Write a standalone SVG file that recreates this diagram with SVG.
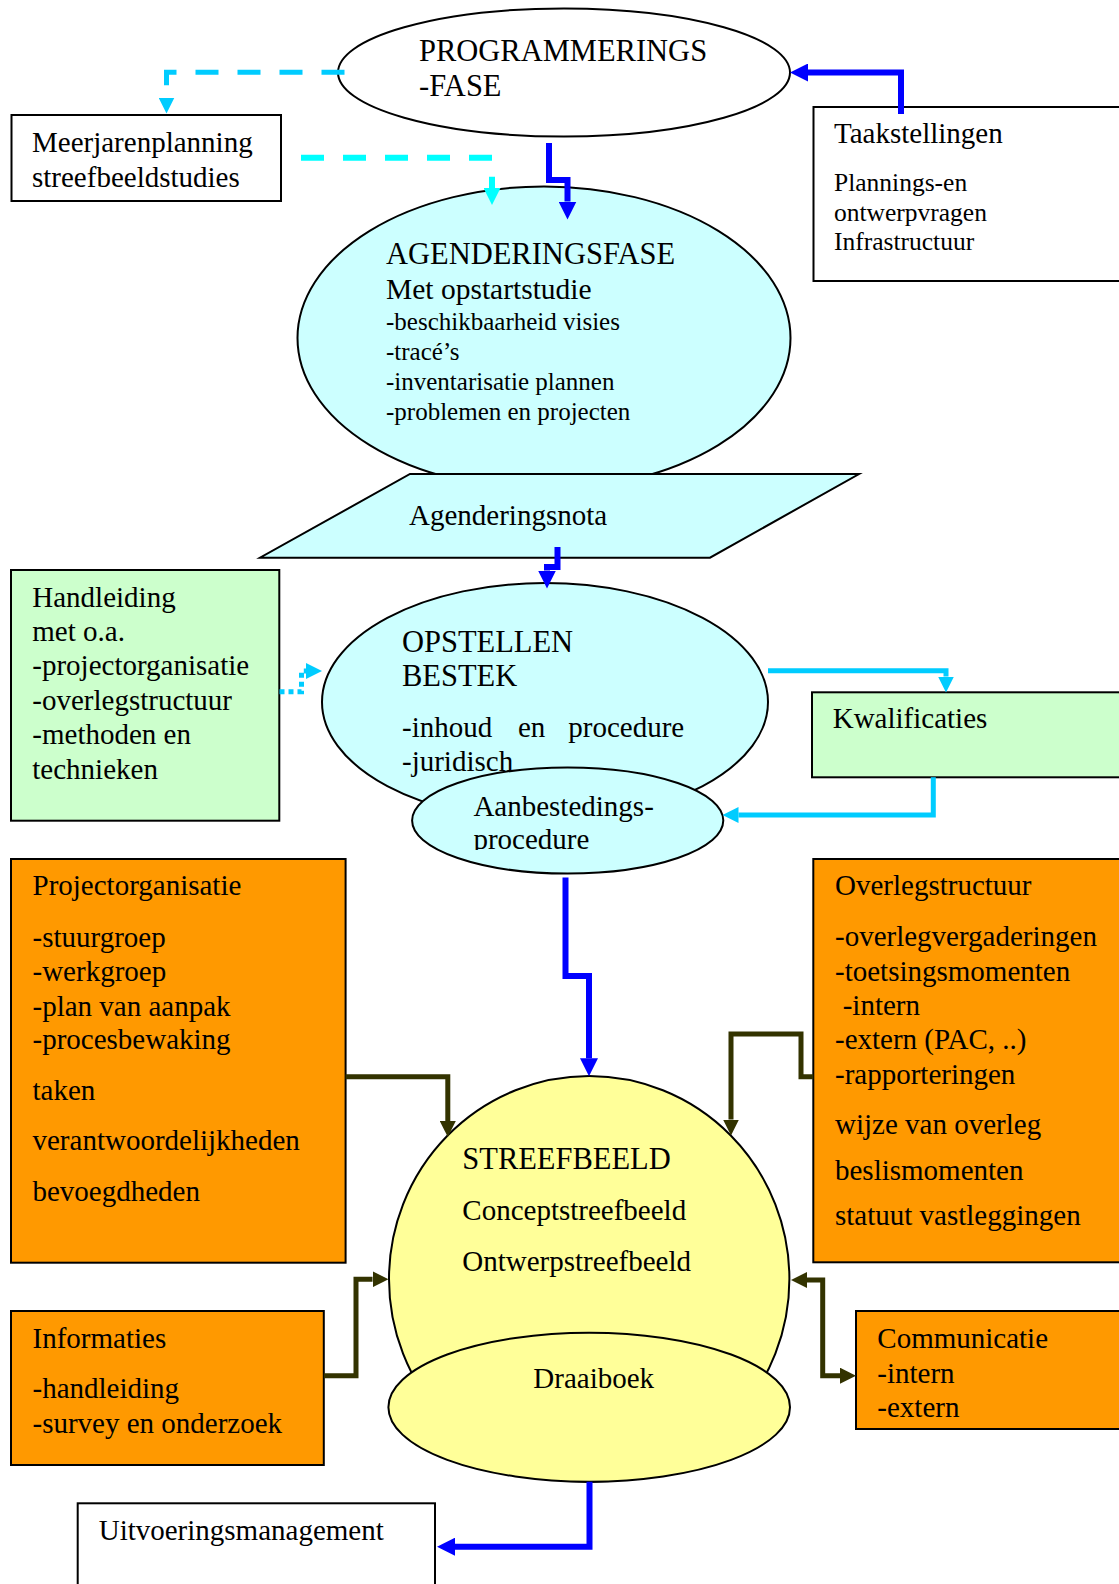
<svg xmlns="http://www.w3.org/2000/svg" width="1119" height="1584" viewBox="0 0 1119 1584">
<style>
text{font-family:"Liberation Serif","Times New Roman",serif;fill:#000;font-size:29px}
.cap{font-size:30.5px}
.sm{font-size:25px}
.box{stroke:#000;stroke-width:2}
.ell{stroke:#000;stroke-width:2}
.white{fill:#fff}
.cyanf{fill:#CCFFFF}
.greenf{fill:#CCFFCC}
.orange{fill:#FF9900}
.yellow{fill:#FFFF99}
.c{fill:none;stroke-linejoin:miter}
.blue{stroke:#0000FF;stroke-width:6;marker-end:url(#hBlue)}
.sky{stroke:#00CCFF;stroke-width:5;marker-end:url(#hSky)}
.aqua{stroke:#00FFFF;stroke-width:6;marker-end:url(#hAqua)}
.olive{stroke:#333300;stroke-width:5;marker-end:url(#hOlive)}
</style>
<defs>
<marker id="hBlue" markerUnits="userSpaceOnUse" markerWidth="18" markerHeight="18" viewBox="0 0 18 18" refX="0" refY="9" orient="auto"><path d="M0,0 L18,9 L0,18 z" fill="#0000FF"/></marker>
<marker id="hSky" markerUnits="userSpaceOnUse" markerWidth="16" markerHeight="16" viewBox="0 0 16 16" refX="0" refY="8" orient="auto"><path d="M0,0 L16,8 L0,16 z" fill="#00CCFF"/></marker>
<marker id="hAqua" markerUnits="userSpaceOnUse" markerWidth="17" markerHeight="17" viewBox="0 0 17 17" refX="0" refY="8.5" orient="auto"><path d="M0,0 L17,8.5 L0,17 z" fill="#00FFFF"/></marker>
<marker id="hOlive" markerUnits="userSpaceOnUse" markerWidth="16" markerHeight="16" viewBox="0 0 16 16" refX="0" refY="8" orient="auto-start-reverse"><path d="M0,0 L16,8 L0,16 z" fill="#333300"/></marker>
<clipPath id="clipAanb"><rect x="400" y="760" width="340" height="90"/></clipPath>
</defs>
<rect width="1119" height="1584" fill="#fff"/>

<g id="programmeringsfase">
<ellipse class="ell white" cx="564" cy="72.5" rx="226" ry="64"/>
<text x="419" y="61" class="cap">PROGRAMMERINGS</text>
<text x="419" y="96" class="cap">-FASE</text>
</g>

<g id="meerjarenplanning">
<rect class="box white" x="11.5" y="115" width="269.5" height="86"/>
<text x="32" y="152">Meerjarenplanning</text>
<text x="32" y="186.5">streefbeeldstudies</text>
</g>

<g id="taakstellingen">
<rect class="box white" x="813.5" y="107" width="320" height="174"/>
<text x="834" y="143.3">Taakstellingen</text>
<text x="834" y="190.7" style="font-size:25.5px">Plannings-en</text>
<text x="834" y="220.7" style="font-size:25.5px">ontwerpvragen</text>
<text x="834" y="250" style="font-size:25.5px">Infrastructuur</text>
</g>

<g id="agenderingsfase">
<ellipse class="ell cyanf" cx="544" cy="338" rx="246.5" ry="151.5"/>
<text x="386" y="264.3" class="cap">AGENDERINGSFASE</text>
<text x="386" y="299.3" style="font-size:29.5px">Met opstartstudie</text>
<text x="386" y="330" class="sm">-beschikbaarheid visies</text>
<text x="386" y="360" class="sm">-tracé’s</text>
<text x="386" y="390" class="sm">-inventarisatie plannen</text>
<text x="386" y="420" class="sm">-problemen en projecten</text>
</g>

<g id="agenderingsnota">
<polygon class="box cyanf" points="410,474 859,474 710,557.7 260,557.7"/>
<text x="409" y="525">Agenderingsnota</text>
</g>

<g id="handleiding">
<rect class="box greenf" x="11" y="570" width="268.3" height="250.7"/>
<text x="32.3" y="606.7">Handleiding</text>
<text x="32.3" y="641">met o.a.</text>
<text x="32.3" y="675">-projectorganisatie</text>
<text x="32.3" y="710">-overlegstructuur</text>
<text x="32.3" y="744.3">-methoden en</text>
<text x="32.3" y="779">technieken</text>
</g>

<g id="opstellen-bestek">
<ellipse class="ell cyanf" cx="545" cy="702" rx="223" ry="119"/>
<text x="402" y="651.7" class="cap">OPSTELLEN</text>
<text x="402" y="685.7" class="cap">BESTEK</text>
<text y="736.7"><tspan x="402">-inhoud</tspan><tspan x="518">en</tspan><tspan x="568.3">procedure</tspan></text>
<text x="402" y="770.7">-juridisch</text>
</g>

<g id="aanbestedingsprocedure">
<ellipse class="ell cyanf" cx="567.7" cy="820.5" rx="155.6" ry="53"/>
<g clip-path="url(#clipAanb)">
<text x="473.4" y="815.7">Aanbestedings-</text>
<text x="473.4" y="848.5">procedure</text>
</g>
</g>

<g id="kwalificaties">
<rect class="box greenf" x="812" y="692.3" width="320" height="85"/>
<text x="832.7" y="728.3">Kwalificaties</text>
</g>

<g id="projectorganisatie">
<rect class="box orange" x="11" y="859" width="334.6" height="403.7"/>
<text x="32.5" y="895">Projectorganisatie</text>
<text x="32.5" y="946.7">-stuurgroep</text>
<text x="32.5" y="980.7">-werkgroep</text>
<text x="32.5" y="1015.7">-plan van aanpak</text>
<text x="32.5" y="1049.3">-procesbewaking</text>
<text x="32.5" y="1100">taken</text>
<text x="32.5" y="1150">verantwoordelijkheden</text>
<text x="32.5" y="1201">bevoegdheden</text>
</g>

<g id="overlegstructuur">
<rect class="box orange" x="813.3" y="859" width="320" height="403.3"/>
<text x="835" y="895">Overlegstructuur</text>
<text x="835" y="946">-overlegvergaderingen</text>
<text x="835" y="980.7">-toetsingsmomenten</text>
<text x="842.7" y="1015">-intern</text>
<text x="835" y="1049.3">-extern (PAC, ..)</text>
<text x="835" y="1084.3">-rapporteringen</text>
<text x="835" y="1134">wijze van overleg</text>
<text x="835" y="1180">beslismomenten</text>
<text x="835" y="1225">statuut vastleggingen</text>
</g>

<g id="streefbeeld">
<ellipse class="ell yellow" cx="589.2" cy="1279" rx="200.2" ry="203"/>
<text x="462.3" y="1169.3" class="cap">STREEFBEELD</text>
<text x="462.3" y="1220">Conceptstreefbeeld</text>
<text x="462.3" y="1270.7">Ontwerpstreefbeeld</text>
</g>

<g id="draaiboek">
<ellipse class="ell yellow" cx="589.2" cy="1407.2" rx="200.8" ry="74.5"/>
<text x="533.3" y="1388.3">Draaiboek</text>
</g>

<g id="informaties">
<rect class="box orange" x="11" y="1311" width="312.8" height="154"/>
<text x="32.5" y="1348.3">Informaties</text>
<text x="32.5" y="1397.7">-handleiding</text>
<text x="32.5" y="1432.7">-survey en onderzoek</text>
</g>

<g id="communicatie">
<rect class="box orange" x="856" y="1311" width="280" height="118"/>
<text x="877.3" y="1348.3">Communicatie</text>
<text x="877.3" y="1382.7">-intern</text>
<text x="877.3" y="1416.7">-extern</text>
</g>

<g id="uitvoeringsmanagement">
<rect class="box white" x="77.7" y="1503.3" width="357.3" height="100"/>
<text x="98.7" y="1540">Uitvoeringsmanagement</text>
</g>

<g id="connectors">
<path class="c sky" d="M344.5,72.3 H166.5 V97.5" stroke-dasharray="23 19"/>
<path class="c aqua" d="M301,157.7 H492 V188" stroke-dasharray="23 19"/>
<path class="c blue" d="M549,143 V180 H567.5 V201.5"/>
<path class="c blue" d="M901,114 V72.5 H808"/>
<path class="c blue" d="M557.5,547 V567 H547 V570.5"/>
<path class="c sky" d="M279.5,691.7 H301.5 V671 H306" stroke-dasharray="5 4"/>
<path class="c sky" d="M768,670.7 H946 V676.5"/>
<path class="c sky" d="M933.3,777.3 V815 H738.5"/>
<path class="c blue" d="M565.5,877.5 V976 H589 V1058.3"/>
<path class="c olive" d="M345.6,1076.7 H447.8 V1121"/>
<path class="c olive" d="M813.3,1076.7 H801 V1034 H731 V1119.5"/>
<path class="c olive" d="M323.8,1375.7 H356 V1279.3 H372.5"/>
<path class="c olive" d="M807,1280 H822.7 V1375.7 H840" style="marker-start:url(#hOlive)"/>
<path class="c blue" d="M589.5,1481.7 V1546.7 H455"/>
</g>
</svg>
